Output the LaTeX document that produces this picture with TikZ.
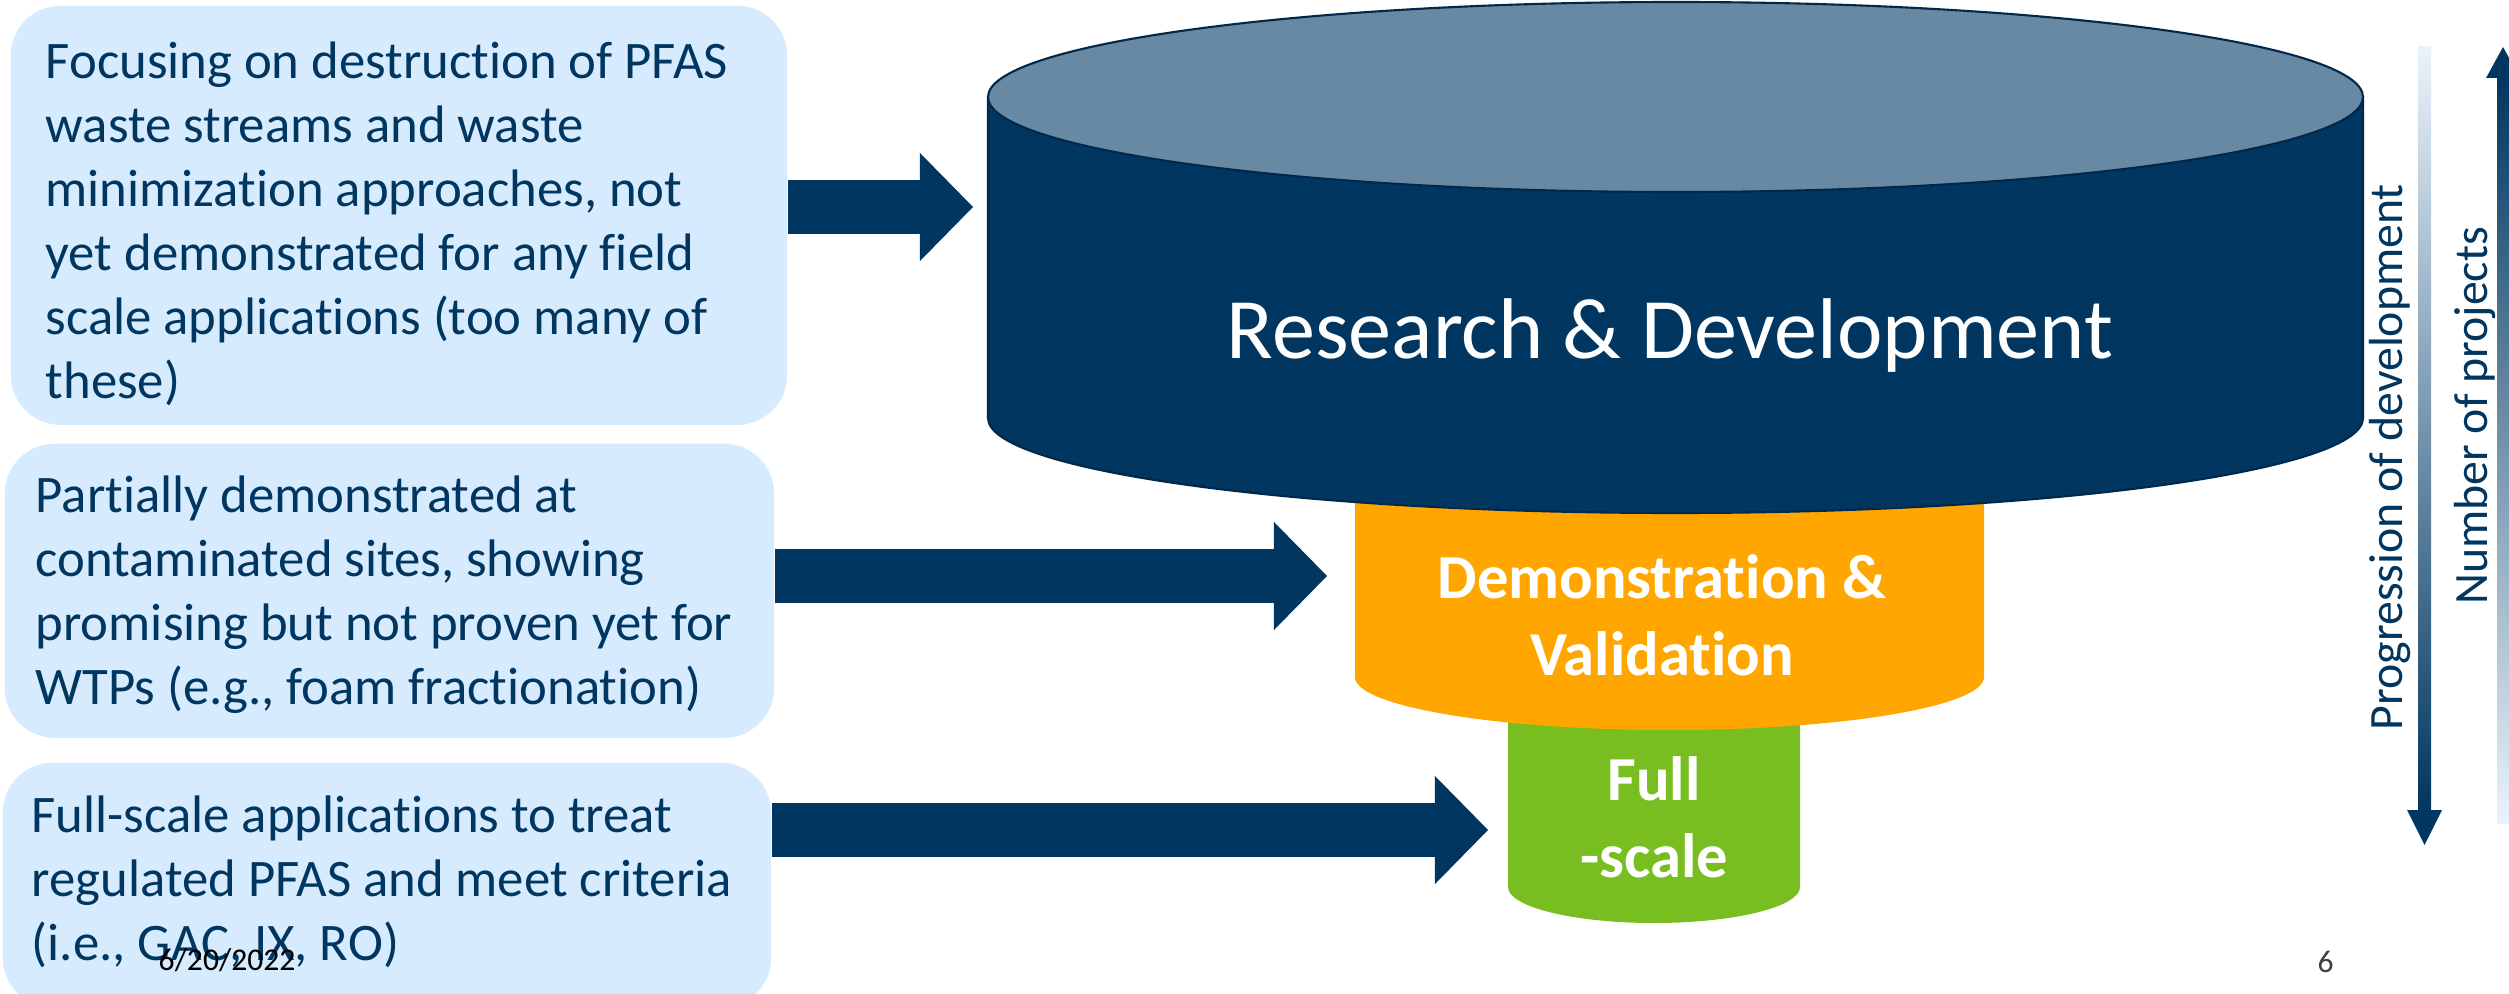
\documentclass[tikz,border=0pt]{standalone}
\usepackage{fontspec}
\setmainfont{Carlito}[Ligatures={TeX,NoCommon}]
\usetikzlibrary{positioning,arrows.meta}
\definecolor{navy}{HTML}{003660}
\definecolor{navyedge}{HTML}{00284A}
\definecolor{navytop}{HTML}{6789A4}
\definecolor{panel}{HTML}{D6EBFD}
\definecolor{stageorange}{HTML}{FFA600}
\definecolor{stagegreen}{HTML}{78BE21}
\definecolor{paleblue}{HTML}{EAF3FB}
\definecolor{midblue}{HTML}{1D5C97}
\begin{document}
\begin{tikzpicture}[x=0.01cm,y=-0.01cm,
    panelbox/.style={draw=none,fill=panel,rounded corners=0.5cm,anchor=north west,inner sep=0},
    paneltext/.style={align=left,inner sep=0,text=navy,font=\fontsize{15}{18.2}\selectfont},
    stagetext/.style={align=center,inner sep=0,text=white,font=\bfseries\fontsize{17.8}{21.9}\selectfont},
    sidetext/.style={rotate=90,anchor=base,inner sep=0,text=navy,font=\fontsize{13.6}{16}\selectfont},
    fatarrow/.style={draw=navy,line width=0.54cm,-{Triangle[length=0.53cm,width=1.08cm,line width'=0pt]}},
    smalltext/.style={anchor=base west,inner sep=0,font=\fontsize{9}{11}\selectfont}]
  \clip (0,0) rectangle (2509,994);

  \path (10,5) node[panelbox,minimum width=7.76cm,minimum height=4.19cm] (P1) {};
  \path (4,443) node[panelbox,minimum width=7.69cm,minimum height=2.94cm] (P2) {};
  \path (2,762) node[panelbox,minimum width=7.68cm,minimum height=2.45cm] (P3) {};

  \node[paneltext,below right=0.28cm and 0.35cm of P1.north west] (T1) {\strut Focusing on destruction of PFAS\\waste streams and waste\\minimization approaches, not\\yet demonstrated for any field\\scale applications (too many of\\these)};
  \node[paneltext,below right=0.24cm and 0.31cm of P2.north west] (T2) {\strut Partially demonstrated at\\contaminated sites, showing\\promising but not proven yet for\\WTPs (e.g., foam fractionation)};
  \node[paneltext,below right=0.25cm and 0.29cm of P3.north west] (T3) {\strut Full-scale applications to treat\\regulated PFAS and meet criteria\\(i.e., GAC, IX, RO)};

  % funnel, drawn bottom stage first
  \fill[stagegreen] (1508,700) -- (1508,887) arc[start angle=180,end angle=0,x radius=146,y radius=36] -- (1800,700) -- cycle;
  \fill[stageorange] (1355,440) -- (1355,677) arc[start angle=180,end angle=0,x radius=314.5,y radius=53] -- (1984,440) -- cycle;
  \filldraw[fill=navy,draw=navyedge,line width=0.6pt] (988,97) -- (988,418) arc[start angle=180,end angle=0,x radius=687.5,y radius=95] -- (2363,97) -- cycle;
  \filldraw[fill=navytop,draw=navyedge,line width=0.6pt] (1675.5,97) ellipse[x radius=687.5,y radius=95];

  \node[anchor=base,inner sep=0,text=white,font=\fontsize{24.5}{29}\selectfont] (RD) at (1670,358) {Research \& Development};
  \node[stagetext,anchor=north] (DV) at (1662,544) {\strut Demonstration \&\\Validation};
  \node[stagetext,anchor=north] (FS) at (1654,746) {\strut Full\\-scale};

  \coordinate (A1) at (973,207);
  \coordinate (A2) at (1327,576);
  \coordinate (A3) at (1488,830);
  \draw[fatarrow] (P1.east |- A1) -- (A1);
  \draw[fatarrow] (P2.east |- A2) -- (A2);
  \draw[fatarrow] (P3.east |- A3) -- (A3);

  % scale arrows on the right
  \shade[top color=paleblue,middle color=midblue,bottom color=navy] (2418,47) rectangle (2431,812);
  \fill[navy] (2407,810) -- (2442,810) -- (2424.5,845) -- cycle;
  \shade[top color=navy,middle color=midblue,bottom color=paleblue] (2497,76) rectangle (2510,823);
  \fill[navy] (2486,78) -- (2520,78) -- (2503,47) -- cycle;
  \node[sidetext] (PROG) at (2402,457) {Progression of development};
  \node[sidetext] (NUM) at (2487,416) {Number of projects};

  \node[smalltext,text=black] (DATE) at (158,970) {6/20/2022};
  \node[smalltext,text=darkgray] (PAGE) at (2317,972) {6};
\end{tikzpicture}
\end{document}
